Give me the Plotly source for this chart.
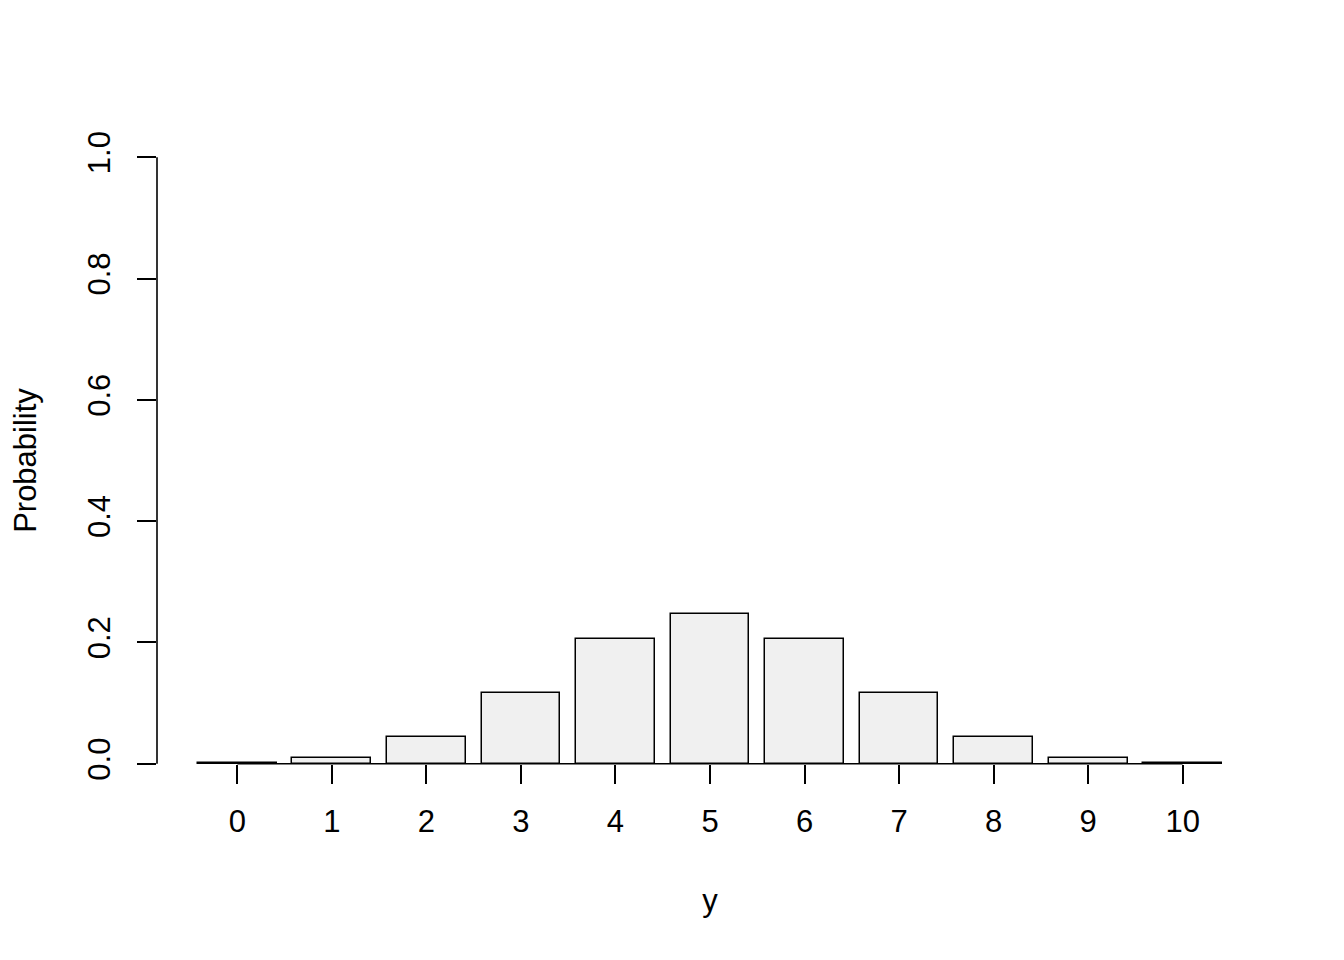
import plotly.graph_objects as go

categories = ["0", "1", "2", "3", "4", "5", "6", "7", "8", "9", "10"]
probabilities = [0.001, 0.0098, 0.0439, 0.1172, 0.2051, 0.2461,
                 0.2051, 0.1172, 0.0439, 0.0098, 0.001]
y_ticks = [0.0, 0.2, 0.4, 0.6, 0.8, 1.0]
y_tick_labels = ["0.0", "0.2", "0.4", "0.6", "0.8", "1.0"]

# R barplot geometry: width 1, space 0.2
bar_x = [0.7 + 1.2 * i for i in range(len(categories))]

FONT = "Liberation Sans, Arial, Helvetica, sans-serif"
FS = 31

fig = go.Figure()
fig.add_trace(go.Bar(
    x=bar_x, y=probabilities, width=1.0,
    marker=dict(color="#F0F0F0", line=dict(color="black", width=1.5)),
    showlegend=False, hoverinfo="skip",
))

x_lo = 0.2 - 0.04 * 13
x_hi = 13.2 + 0.04 * 13

# page body has an 8px offset; compensate
OFF = 8
fig.update_layout(
    width=1344, height=960,
    margin=dict(l=157 - OFF, r=1344 - 1263 + OFF, t=133 - OFF, b=960 - 788 + OFF),
    paper_bgcolor="white", plot_bgcolor="white",
    font=dict(family=FONT, size=FS, color="black"),
    bargap=0,
    xaxis=dict(
        range=[x_lo, x_hi], tickmode="array", tickvals=bar_x, ticktext=categories,
        ticks="outside", ticklen=19, tickwidth=1.6, tickcolor="black",
        showgrid=False, zeroline=False, showline=False,
        anchor="free", position=0.04 / 1.08,
        ticklabelstandoff=11,
        tickfont=dict(family=FONT, size=FS),
        title=dict(text="y", font=dict(family=FONT, size=FS), standoff=51),
    ),
    yaxis=dict(
        range=[-0.04, 1.04], tickmode="array", tickvals=y_ticks, ticktext=y_tick_labels,
        ticks="outside", ticklen=19, tickwidth=1.6, tickcolor="black",
        tickangle=-90, showgrid=False, zeroline=False, showline=False,
        ticklabelstandoff=15,
        tickfont=dict(family=FONT, size=FS),
        title=dict(text="Probability", font=dict(family=FONT, size=FS), standoff=40),
    ),
)

# axis lines (R draws them only across the tick range)
fig.add_shape(type="line", xref="paper", yref="y", x0=0, x1=0,
              y0=y_ticks[0], y1=y_ticks[-1], line=dict(color="black", width=1.6))
fig.add_shape(type="line", xref="x", yref="y", x0=bar_x[0], x1=bar_x[-1],
              y0=0, y1=0, line=dict(color="black", width=1.6))

fig.write_html("out.html")
